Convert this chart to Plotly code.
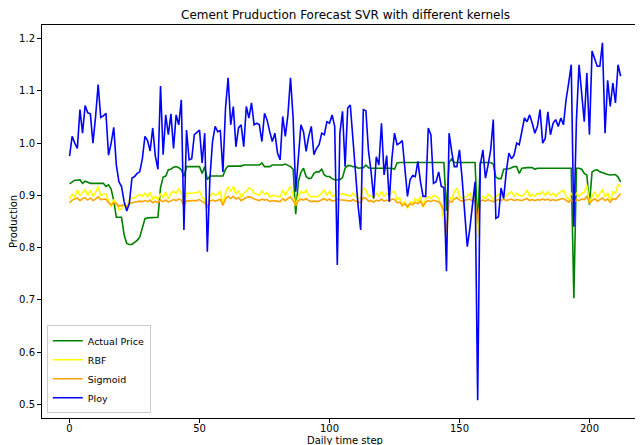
import plotly.graph_objects as go

actual = [0.922, 0.925, 0.929, 0.929, 0.930, 0.923, 0.927, 0.925, 0.923, 0.923,
          0.923, 0.923, 0.923, 0.923, 0.917, 0.920, 0.912, 0.89, 0.858, 0.858,
          0.858, 0.824, 0.808, 0.806, 0.806, 0.81, 0.814, 0.82, 0.84, 0.855,
          0.857, 0.857, 0.857, 0.857, 0.858, 0.915, 0.935, 0.937, 0.949, 0.950,
          0.954, 0.955, 0.953, 0.949, 0.936, 0.955, 0.955, 0.955, 0.955, 0.955,
          0.955, 0.942, 0.955, 0.93, 0.937, 0.937, 0.937, 0.937, 0.937, 0.937,
          0.95, 0.956, 0.956, 0.956, 0.956, 0.956, 0.956, 0.958, 0.958, 0.958,
          0.958, 0.958, 0.958, 0.958, 0.962, 0.955, 0.955, 0.955, 0.958, 0.958,
          0.957, 0.958, 0.958, 0.96, 0.958, 0.955, 0.95, 0.864, 0.926, 0.944,
          0.952, 0.936, 0.932, 0.933, 0.942, 0.945, 0.945, 0.95, 0.939, 0.936,
          0.936, 0.932, 0.93, 0.93, 0.93, 0.934, 0.952, 0.957, 0.957, 0.955,
          0.955, 0.952, 0.953, 0.953, 0.958, 0.953, 0.952, 0.952, 0.952, 0.952,
          0.952, 0.952, 0.952, 0.952, 0.952, 0.95, 0.962, 0.963, 0.963, 0.963,
          0.963, 0.963, 0.963, 0.963, 0.963, 0.963, 0.963, 0.963, 0.963, 0.963,
          0.963, 0.963, 0.963, 0.963, 0.963, 0.87, 0.963, 0.97, 0.963, 0.963,
          0.963, 0.963, 0.963, 0.963, 0.963, 0.963, 0.963, 0.84, 0.963, 0.963,
          0.963, 0.963, 0.963, 0.96, 0.935, 0.932, 0.932, 0.95, 0.95, 0.951,
          0.953, 0.955, 0.955, 0.942, 0.952, 0.953, 0.953, 0.953, 0.953, 0.95,
          0.952, 0.952, 0.952, 0.952, 0.952, 0.952, 0.952, 0.952, 0.952, 0.952,
          0.952, 0.952, 0.952, 0.952, 0.703, 0.952, 0.952, 0.95, 0.942, 0.939,
          0.882, 0.945, 0.948, 0.949, 0.945, 0.943, 0.941, 0.94, 0.939, 0.94,
          0.94, 0.935, 0.926]

rbf = [0.893, 0.902, 0.897, 0.910, 0.900, 0.906, 0.911, 0.900, 0.910, 0.898,
       0.906, 0.917, 0.900, 0.902, 0.903, 0.890, 0.878, 0.892, 0.885, 0.872,
       0.874, 0.886, 0.878, 0.891, 0.895, 0.895, 0.898, 0.902, 0.898, 0.904,
       0.897, 0.906, 0.893, 0.898, 0.891, 0.904, 0.895, 0.907, 0.893, 0.904,
       0.908, 0.904, 0.912, 0.904, 0.880, 0.904, 0.904, 0.904, 0.904, 0.905,
       0.908, 0.896, 0.892, 0.878, 0.898, 0.904, 0.901, 0.902, 0.908, 0.882,
       0.905, 0.917, 0.907, 0.917, 0.902, 0.910, 0.896, 0.904, 0.908, 0.914,
       0.912, 0.904, 0.902, 0.900, 0.908, 0.902, 0.905, 0.897, 0.900, 0.899,
       0.898, 0.897, 0.910, 0.900, 0.910, 0.917, 0.900, 0.880, 0.898, 0.908,
       0.904, 0.910, 0.900, 0.897, 0.898, 0.897, 0.899, 0.904, 0.910, 0.900,
       0.908, 0.898, 0.900, 0.908, 0.902, 0.903, 0.902, 0.900, 0.898, 0.904,
       0.899, 0.895, 0.893, 0.914, 0.910, 0.898, 0.900, 0.894, 0.904, 0.898,
       0.907, 0.898, 0.904, 0.898, 0.907, 0.907, 0.892, 0.895, 0.882, 0.888,
       0.875, 0.888, 0.885, 0.894, 0.888, 0.898, 0.877, 0.894, 0.898, 0.894,
       0.900, 0.898, 0.894, 0.878, 0.850, 0.805, 0.898, 0.891, 0.907, 0.914,
       0.898, 0.894, 0.897, 0.898, 0.904, 0.891, 0.898, 0.820, 0.894, 0.898,
       0.893, 0.902, 0.898, 0.892, 0.898, 0.902, 0.898, 0.907, 0.898, 0.904,
       0.907, 0.898, 0.904, 0.900, 0.898, 0.902, 0.910, 0.898, 0.902, 0.898,
       0.904, 0.902, 0.907, 0.900, 0.907, 0.900, 0.904, 0.898, 0.904, 0.907,
       0.910, 0.898, 0.891, 0.904, 0.898, 0.904, 0.898, 0.904, 0.906, 0.920,
       0.885, 0.898, 0.907, 0.895, 0.904, 0.910, 0.898, 0.904, 0.891, 0.907,
       0.904, 0.920, 0.918]

sigmoid = [0.886, 0.891, 0.893, 0.895, 0.890, 0.894, 0.895, 0.891, 0.895, 0.890,
           0.893, 0.897, 0.892, 0.892, 0.893, 0.886, 0.882, 0.886, 0.884, 0.879,
           0.880, 0.882, 0.876, 0.884, 0.886, 0.887, 0.887, 0.889, 0.888, 0.890,
           0.888, 0.891, 0.886, 0.889, 0.886, 0.891, 0.888, 0.891, 0.887, 0.890,
           0.892, 0.890, 0.893, 0.891, 0.880, 0.890, 0.889, 0.890, 0.890, 0.890,
           0.892, 0.888, 0.886, 0.876, 0.889, 0.891, 0.889, 0.890, 0.892, 0.881,
           0.893, 0.898, 0.894, 0.898, 0.893, 0.896, 0.890, 0.893, 0.896, 0.897,
           0.896, 0.893, 0.892, 0.890, 0.893, 0.891, 0.892, 0.888, 0.890, 0.889,
           0.889, 0.888, 0.894, 0.890, 0.894, 0.897, 0.890, 0.882, 0.889, 0.893,
           0.891, 0.894, 0.890, 0.888, 0.889, 0.888, 0.889, 0.891, 0.894, 0.890,
           0.893, 0.889, 0.890, 0.893, 0.891, 0.891, 0.891, 0.890, 0.889, 0.892,
           0.889, 0.887, 0.886, 0.896, 0.894, 0.889, 0.890, 0.887, 0.891, 0.889,
           0.893, 0.889, 0.891, 0.889, 0.893, 0.892, 0.886, 0.887, 0.880, 0.884,
           0.878, 0.884, 0.882, 0.887, 0.884, 0.889, 0.879, 0.887, 0.890, 0.888,
           0.891, 0.889, 0.888, 0.882, 0.870, 0.830, 0.890, 0.887, 0.893, 0.896,
           0.891, 0.889, 0.890, 0.891, 0.893, 0.888, 0.890, 0.850, 0.889, 0.891,
           0.889, 0.892, 0.890, 0.888, 0.890, 0.892, 0.890, 0.893, 0.890, 0.892,
           0.893, 0.890, 0.892, 0.891, 0.890, 0.892, 0.894, 0.890, 0.892, 0.890,
           0.892, 0.891, 0.893, 0.891, 0.893, 0.890, 0.892, 0.890, 0.892, 0.893,
           0.894, 0.890, 0.887, 0.892, 0.885, 0.892, 0.890, 0.893, 0.892, 0.898,
           0.886, 0.890, 0.894, 0.889, 0.892, 0.895, 0.890, 0.893, 0.887, 0.894,
           0.892, 0.898, 0.903]

ploy = [0.975, 1.013, 1.0, 0.99, 1.064, 1.019, 1.072, 1.058, 1.056, 1.0,
        1.05, 1.112, 1.049, 1.052, 1.057, 0.977, 1.0, 1.03, 0.958, 0.926,
        0.917, 0.888, 0.870, 0.885, 0.933, 0.936, 0.942, 0.945, 0.97, 1.013,
        1.005, 0.985, 1.029, 0.975, 0.95, 1.109, 0.978, 1.054, 1.016, 1.056,
        0.99, 1.054, 1.035, 1.083, 0.834, 1.025, 0.968, 0.97, 1.016, 1.02,
        1.025, 0.962, 1.019, 0.792, 0.933, 1.003, 1.032, 1.022, 1.024, 0.945,
        1.067, 1.125, 1.035, 1.07, 0.993, 1.029, 1.035, 0.993, 1.07, 1.048,
        1.077, 1.035, 1.038, 1.035, 1.003, 1.057, 1.044, 1.022, 1.003, 1.019,
        0.981, 0.968, 1.051, 1.013, 1.054, 1.125, 1.048, 0.907, 0.965, 1.035,
        1.022, 0.984, 1.013, 1.032, 0.978, 0.99, 0.997, 1.019, 1.016, 1.041,
        1.038, 1.054, 1.032, 0.767, 1.019, 1.061, 0.955, 1.067, 1.073, 1.003,
        0.933, 0.88, 0.834, 1.064, 1.062, 0.985, 0.945, 0.894, 0.974, 0.958,
        1.038, 0.939, 0.976, 0.888, 0.97, 1.019, 0.997, 1.0, 1.005, 0.952,
        0.898, 0.93, 0.938, 0.936, 0.965, 0.926, 0.898, 0.898, 1.029, 1.016,
        0.923, 0.926, 0.945, 0.917, 0.915, 0.755, 1.019, 0.984, 0.955, 0.955,
        0.987, 0.933, 0.859, 0.802, 0.837, 0.888, 0.926, 0.508, 0.958, 0.987,
        0.933, 0.958, 0.987, 1.045, 0.856, 0.859, 0.914, 0.894, 0.945, 0.981,
        0.97, 0.977, 1.0, 0.997, 1.022, 1.048, 1.041, 1.054, 1.038, 1.019,
        1.032, 1.064, 1.0, 1.009, 1.06, 1.016, 1.038, 1.045, 1.032, 1.048,
        1.035, 1.083, 1.115, 1.15, 0.84, 1.045, 1.15, 1.1, 1.041, 1.134,
        1.016, 1.176, 1.163, 1.147, 1.147, 1.192, 1.019, 1.12, 1.07, 1.115,
        1.077, 1.15, 1.128]

series = [("Actual Price", actual, "green"),
          ("RBF", rbf, "yellow"),
          ("Sigmoid", sigmoid, "orange"),
          ("Ploy", ploy, "blue")]

xticks = [0, 50, 100, 150, 200]
yticks = [0.5, 0.6, 0.7, 0.8, 0.9, 1.0, 1.1, 1.2]

fig = go.Figure()
for name, vals, color in series:
    fig.add_trace(go.Scatter(x=list(range(len(vals))), y=vals, mode="lines",
                             name=name, line=dict(color=color, width=1.6)))

font = "DejaVu Sans, Arial, sans-serif"
fig.update_layout(
    width=643, height=445,
    margin=dict(l=34, r=8, t=17, b=35),
    paper_bgcolor="white", plot_bgcolor="white",
    font=dict(family=font, size=10, color="black"),
    showlegend=True,
    legend=dict(x=0.008, y=0.012, xanchor="left", yanchor="bottom",
                bgcolor="rgba(255,255,255,0.8)", bordercolor="#cccccc", borderwidth=1,
                font=dict(size=9.5), tracegroupgap=0, itemwidth=30),
    annotations=[
        dict(text="Cement Pruduction Forecast SVR with different kernels",
             x=0.505, xref="paper", y=1, yref="paper",
             showarrow=False, font=dict(size=12), yanchor="bottom", yshift=1),
        dict(text="Daily time step", x=0.5045, xref="paper", y=0, yref="paper",
             showarrow=False, yanchor="top", yshift=-15, font=dict(size=10)),
        dict(text="Production", x=0, xref="paper", y=0.5, yref="paper",
             showarrow=False, textangle=-90, xanchor="right", xshift=-21,
             font=dict(size=10)),
    ],
)
fig.update_xaxes(range=[-10.6, 220.6], tickvals=xticks, ticks="outside", ticklen=4,
                 tickcolor="black", showline=True, linecolor="black", linewidth=1,
                 mirror=True, showgrid=False, zeroline=False, ticklabelstandoff=-3)
fig.update_yaxes(range=[0.474, 1.226], tickvals=yticks, tickformat=".1f",
                 ticks="outside", ticklen=4, tickcolor="black", showline=True,
                 linecolor="black", linewidth=1, showgrid=False, zeroline=False)

fig.write_html("out.html")
